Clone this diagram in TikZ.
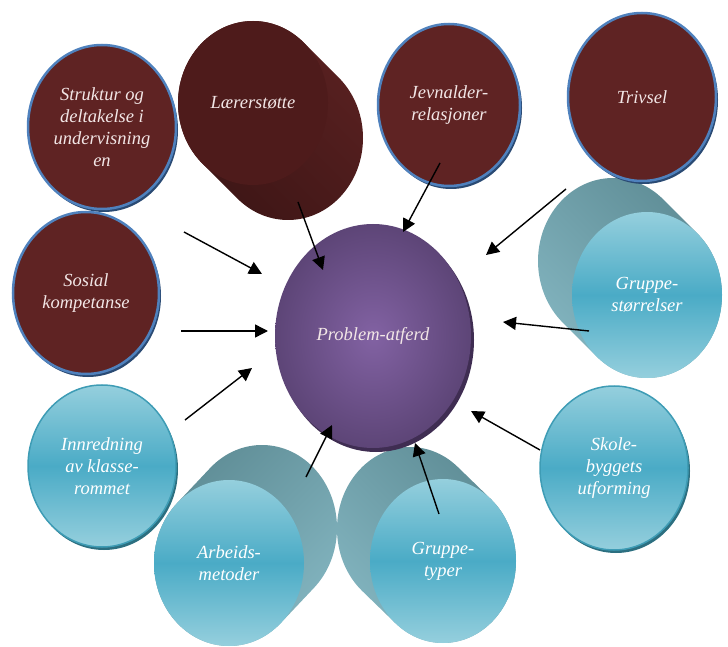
\documentclass[tikz,border=0pt]{standalone}
\usepackage{fontspec}
\setmainfont{Liberation Serif}
\usetikzlibrary{shapes.geometric,shadows,arrows.meta}
\definecolor{maroon}{HTML}{5F2323}
\definecolor{ballblue}{HTML}{4F81BD}
\definecolor{ballshadow}{HTML}{2A4A73}
\definecolor{laererfront}{HTML}{4E1B1B}
\definecolor{laererside}{HTML}{3C1515}
\definecolor{laererlight}{HTML}{5A2121}
\definecolor{cyanlight}{HTML}{95CFDD}
\definecolor{cyanmid}{HTML}{4AABC6}
\definecolor{cyanedge}{HTML}{3E9CB5}
\definecolor{cyanshadow}{HTML}{2C6F80}
\definecolor{sidedark}{HTML}{5D8B94}
\definecolor{sidelight}{HTML}{84B6C1}
\definecolor{purpleinner}{HTML}{8262A3}
\definecolor{purpleouter}{HTML}{5D4577}
\definecolor{purpleshadow}{HTML}{3F2D52}
\definecolor{textpink}{HTML}{F2E6E6}

\begin{document}
\begin{tikzpicture}[x=1pt, y=1pt,
  ball/.style={ellipse, inner sep=0pt, align=center, font=\itshape\fontsize{18.5}{22}\selectfont},
  dims/.style 2 args={minimum width=#1pt, minimum height=#2pt},
  redball/.style={ball, fill=maroon, draw=ballblue, line width=2.5pt, text=textpink,
    drop shadow={shadow xshift=2pt, shadow yshift=-3pt, fill=ballshadow, opacity=1}},
  blueball/.style={ball, top color=cyanlight, bottom color=cyanlight, middle color=cyanmid, text=white},
  flatblue/.style={blueball, draw=cyanedge, line width=1.5pt,
    drop shadow={shadow xshift=2pt, shadow yshift=-3pt, fill=cyanshadow, opacity=1}},
  arrow/.style={line width=1.4pt, -{Triangle[length=13pt,width=13pt]}}]
\useasboundingbox (0,0) rectangle (728,646);

% cylinders: side first, then the front
\shade[top color=laererlight, bottom color=laererside, shading angle=-45] (288,508) ++(227.5:75 and 82) arc[start angle=227.5, delta angle=180, x radius=75, y radius=82] -- ++(-35,35) arc[start angle=47.5, delta angle=180, x radius=75, y radius=82] -- cycle;
\node[ball, fill=laererfront, text=textpink, dims={150}{164}] (laerer) at (253,543) {Lærerstøtte};

\shade[top color=sidedark, bottom color=sidelight, shading angle=-45] (613,385) ++(47.9:75 and 83) arc[start angle=47.9, delta angle=180, x radius=75, y radius=83] -- ++(34,-34) arc[start angle=227.9, delta angle=180, x radius=75, y radius=83] -- cycle;
\node[blueball, dims={150}{166}] (storrelser) at (647,351) {Gruppe-\\størrelser};

\shade[top color=sidedark, bottom color=sidelight, shading angle=45] (262,118) ++(-46.2:75 and 83) arc[start angle=-46.2, delta angle=180, x radius=75, y radius=83] -- ++(-33,-35) arc[start angle=133.8, delta angle=180, x radius=75, y radius=83] -- cycle;
\node[blueball, dims={150}{166}] (arbeids) at (229,83) {Arbeids-\\metoder};

\shade[top color=sidedark, bottom color=sidelight, shading angle=-45] (410,117) ++(49.2:73 and 82) arc[start angle=49.2, delta angle=180, x radius=73, y radius=82] -- ++(33,-32) arc[start angle=229.2, delta angle=180, x radius=73, y radius=82] -- cycle;
\node[blueball, dims={146}{164}] (typer) at (443,85) {Gruppe-\\typer};

% flat circles
\node[redball, dims={148}{164}] (struktur) at (102,519) {Struktur og\\deltakelse i\\undervisning\\en};
\node[redball, dims={142}{162}] (jevnalder) at (449,541) {Jevnalder-\\relasjoner};
\node[redball, dims={148}{168}] (trivsel) at (642,549) {Trivsel};
\node[redball, dims={146}{162}] (sosial) at (86,353) {Sosial\\kompetanse};
\node[flatblue, dims={148}{162}] (innredning) at (102,180) {Innredning\\av klasse-\\rommet};
\node[flatblue, dims={148}{164}] (skole) at (614,178) {Skole-\\byggets\\utforming};

\node[ball, inner color=purpleinner, outer color=purpleouter, text=textpink, dims={196}{224},
  drop shadow={shadow xshift=3pt, shadow yshift=-4pt, fill=purpleshadow, opacity=1}] (problem) at (373,310) {Problem-atferd};

% arrow ends
\coordinate (strukturT) at (184,414); \coordinate (strukturH) at (262,372);
\coordinate (sosialT) at (181,315); \coordinate (sosialH) at (268,315);
\coordinate (innredningT) at (185,226); \coordinate (innredningH) at (252,278);
\coordinate (laererT) at (298,444); \coordinate (laererH) at (323,376);
\coordinate (jevnalderT) at (440,483); \coordinate (jevnalderH) at (403,414);
\coordinate (trivselT) at (566,457); \coordinate (trivselH) at (486,391);
\coordinate (storrelserT) at (589,315); \coordinate (storrelserH) at (503,324);
\coordinate (skoleT) at (540,196); \coordinate (skoleH) at (471,235);
\coordinate (arbeidsT) at (306,169); \coordinate (arbeidsH) at (332,221);
\coordinate (typerT) at (439,132); \coordinate (typerH) at (415,203);

\foreach \n in {struktur, sosial, innredning, laerer, jevnalder, trivsel, storrelser, skole, arbeids, typer}
  \draw[arrow] (\n T) -- (\n H);

\end{tikzpicture}
\end{document}
